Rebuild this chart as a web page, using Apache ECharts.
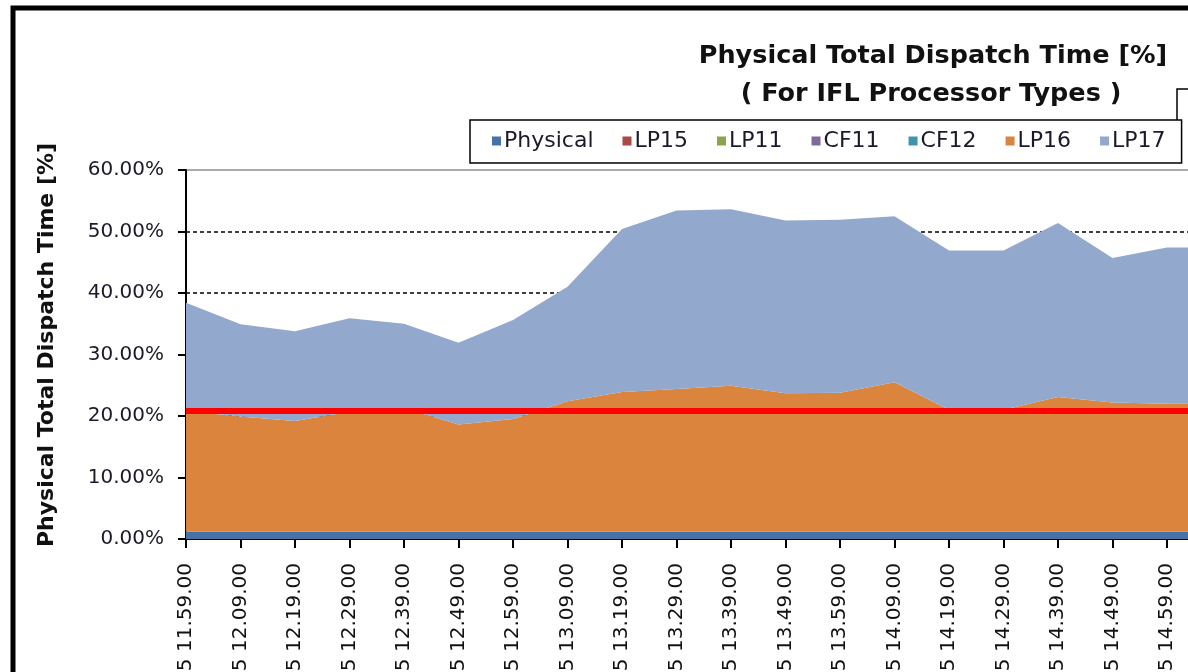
<!DOCTYPE html>
<html>
<head>
<meta charset="utf-8">
<title>Physical Total Dispatch Time</title>
<script src="https://cdn.jsdelivr.net/npm/echarts@6/dist/echarts.min.js"></script>
<style>
  html, body { margin: 0; padding: 0; width: 1188px; height: 672px; overflow: hidden; background: #fff; }
  #chart { width: 1300px; height: 760px; }
</style>
</head>
<body>
<div id="chart"></div>
<script>
// interval times (labels are cut off at the bottom in the reference)
var times = ['05 11.59.00', '05 12.09.00', '05 12.19.00', '05 12.29.00', '05 12.39.00', '05 12.49.00',
  '05 12.59.00', '05 13.09.00', '05 13.19.00', '05 13.29.00', '05 13.39.00', '05 13.49.00',
  '05 13.59.00', '05 14.09.00', '05 14.19.00', '05 14.29.00', '05 14.39.00', '05 14.49.00',
  '05 14.59.00', '05 15.09.00', '05 15.19.00'];

var physical = [1.2, 1.2, 1.2, 1.2, 1.2, 1.2, 1.2, 1.2, 1.2, 1.2, 1.2, 1.2, 1.2, 1.2, 1.2, 1.2, 1.2, 1.2, 1.2, 1.2, 1.2];
var lp15 = [0, 0, 0, 0, 0, 0, 0, 0, 0, 0, 0, 0, 0, 0, 0, 0, 0, 0, 0, 0, 0];
var lp11 = [0, 0, 0, 0, 0, 0, 0, 0, 0, 0, 0, 0, 0, 0, 0, 0, 0, 0, 0, 0, 0];
var cf11 = [0, 0, 0, 0, 0, 0, 0, 0, 0, 0, 0, 0, 0, 0, 0, 0, 0, 0, 0, 0, 0];
var cf12 = [0, 0, 0, 0, 0, 0, 0, 0, 0, 0, 0, 0, 0, 0, 0, 0, 0, 0, 0, 0, 0];
var lp16 = [19.6, 18.7, 18.0, 19.5, 20.1, 17.4, 18.3, 21.2, 22.7, 23.2, 23.7, 22.5, 22.6, 24.3, 19.8, 19.8, 21.9, 21.0, 20.8, 20.8, 20.8];
var lp17 = [17.6, 15.0, 14.6, 15.2, 13.7, 13.3, 16.1, 18.6, 26.5, 29.0, 28.7, 28.1, 28.1, 27.0, 25.9, 25.9, 28.3, 23.5, 25.4, 25.4, 25.0];

var yTicks = ['0.00%', '10.00%', '20.00%', '30.00%', '40.00%', '50.00%', '60.00%'];
var limitValue = 20.8;

var seriesNames = ['Physical', 'LP15', 'LP11', 'CF11', 'CF12', 'LP16', 'LP17'];
var seriesData = [physical, lp15, lp11, cf11, cf12, lp16, lp17];
var colors = ['#4572A7', '#AA4643', '#89A54E', '#80699B', '#3D96AE', '#DB843D', '#92A8CD'];

var font = "'DejaVu Sans', sans-serif";
var myChart = echarts.init(document.getElementById('chart'));

var series = seriesNames.map(function (name, i) {
  var s = {
    name: name,
    type: 'line',
    stack: 'total',
    data: seriesData[i],
    symbol: 'none',
    lineStyle: { width: 0 },
    areaStyle: { color: colors[i], opacity: 1 },
    itemStyle: { color: colors[i] }
  };
  if (i === seriesNames.length - 1) {
    // red limit line
    s.markLine = {
      silent: true,
      symbol: ['none', 'none'],
      label: { show: false },
      lineStyle: { color: '#ff0000', width: 6, type: 'solid' },
      data: [{ yAxis: limitValue }]
    };
  }
  return s;
});

var option = {
  animation: false,
  color: colors,
  textStyle: { fontFamily: font },
  title: [
    {
      text: 'Physical Total Dispatch Time [%]',
      left: 928, top: 38, textAlign: 'center',
      textStyle: { fontSize: 25.5, fontWeight: 'bold', color: '#111', fontFamily: font }
    },
    {
      text: '( For IFL Processor Types )',
      left: 926, top: 76, textAlign: 'center',
      textStyle: { fontSize: 25.5, fontWeight: 'bold', color: '#111', fontFamily: font }
    }
  ],
  graphic: [
    { type: 'rect', shape: { x: 13, y: 8, width: 1400, height: 900 }, style: { fill: 'none', stroke: '#000', lineWidth: 5 } },
    { type: 'polyline', shape: { points: [[1177, 163], [1177, 89], [1300, 89]] }, style: { fill: 'none', stroke: '#000', lineWidth: 1.5 } }
  ],
  legend: {
    left: 470, top: 120,
    padding: [10, 16, 11, 22],
    itemGap: 29,
    itemWidth: 9, itemHeight: 9,
    icon: 'rect',
    borderColor: '#000', borderWidth: 1.5,
    backgroundColor: '#fff',
    textStyle: { fontSize: 22, color: '#1a1a2a', fontFamily: font, padding: [0, 0, 0, -2] },
    data: seriesNames
  },
  grid: {
    left: 186, right: 24, top: 170, bottom: 221,
    show: true, borderColor: '#aaaaaa', borderWidth: 2, backgroundColor: 'transparent'
  },
  xAxis: {
    type: 'category',
    data: times,
    boundaryGap: false,
    axisLine: { lineStyle: { color: '#000', width: 2 } },
    axisTick: { length: 9, lineStyle: { color: '#000', width: 2 } },
    axisLabel: { rotate: 90, margin: 24, fontSize: 20, color: '#111', fontFamily: font, interval: 0 },
    splitLine: { show: false }
  },
  yAxis: {
    type: 'value',
    min: 0, max: 60, interval: 10,
    name: 'Physical Total Dispatch Time [%]',
    nameLocation: 'middle',
    nameGap: 128,
    nameTextStyle: { fontSize: 22, fontWeight: 'bold', color: '#111', fontFamily: font, padding: [0, 0, 0, 19] },
    axisLine: { show: true, lineStyle: { color: '#000', width: 2 } },
    axisTick: { show: true, length: 8, lineStyle: { color: '#000', width: 2 } },
    axisLabel: {
      margin: 22, fontSize: 20, color: '#1a1a2a', fontFamily: font,
      formatter: function (v) { return yTicks[Math.round(v / 10)]; }
    },
    splitLine: { show: true, showMaxLine: false, lineStyle: { color: '#000', width: 1.5, type: [4, 3] } }
  },
  series: series
};

myChart.setOption(option);
window.addEventListener('resize', function () {
  myChart.resize();
});
</script>
</body>
</html>
